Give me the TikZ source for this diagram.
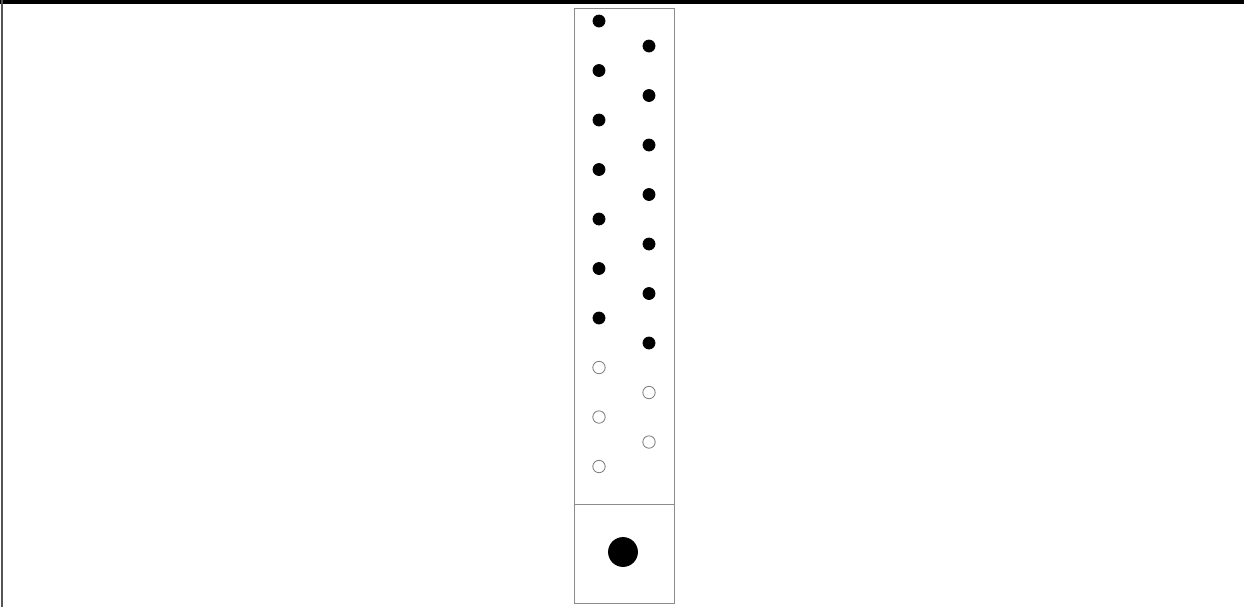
\documentclass[tikz,border=0pt]{standalone}
\usepackage{xcolor}
\definecolor{cFrame}{HTML}{8C8C8C}
\definecolor{cEdge}{HTML}{555555}
\definecolor{cHole}{HTML}{7A7A7A}
\usepackage{tikz}
\usetikzlibrary{positioning}
\tikzset{
  dot-full/.style={circle,fill=black,draw=black,inner sep=0pt,minimum size=6pt},
  dot-empty/.style={circle,draw=cHole,line width=0.4pt,fill=white,inner sep=0pt,minimum size=6.2pt},
  dot-big/.style={circle,fill=black,draw=black,inner sep=0pt,minimum size=14.5pt},
  tray/.style={draw=cFrame,line width=0.5pt},
}
\begin{document}
\begin{tikzpicture}[x=0.5pt,y=-0.5pt]
  \useasboundingbox (0,0) rectangle (1244,607);
  % frame edges
  \draw[black,line width=1.6pt] (0,2) -- (1244,2);
  \draw[cEdge,line width=1pt] (2,0) -- (2,607);
  % tray
  \coordinate (tl) at (574,8);
  \coordinate (br) at (674,603);
  \draw[tray] (tl) rectangle (br);
  \draw[tray] (574,504) -- (674,504);
  % left column
  \foreach \i in {0,...,6}
    \node[dot-full] (l\i) at (599,{21+49.5*\i}) {};
  \foreach \i in {7,8,9}
    \node[dot-empty] (l\i) at (599,{21+49.5*\i}) {};
  % right column
  \foreach \i in {0,...,6}
    \node[dot-full] (r\i) at (649,{46+49.5*\i}) {};
  \foreach \i in {7,8}
    \node[dot-empty] (r\i) at (649,{46+49.5*\i}) {};
  % bottom cell
  \node[dot-big] (big) at (623,552) {};
\end{tikzpicture}
\end{document}
